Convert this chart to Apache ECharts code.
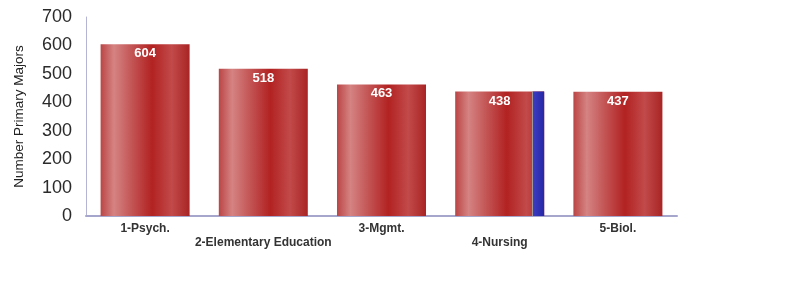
<!DOCTYPE html>
<html>
<head>
<meta charset="utf-8">
<script src="https://cdn.jsdelivr.net/npm/echarts@6/dist/echarts.min.js"></script>
<style>
  html, body { margin: 0; padding: 0; background: #fff; }
  #chart { width: 812px; height: 281px; }
</style>
</head>
<body>
<div id="chart"></div>
<script>
const majors = ["1-Psych.", "2-Elementary Education", "3-Mgmt.", "4-Nursing", "5-Biol."];
const counts = [604, 518, 463, 438, 437];
// narrow blue strip drawn at the right side of the Nursing bar
const blueStrip = [null, null, null, 438, null];
const yTicks = [0, 100, 200, 300, 400, 500, 600, 700];

const redFill = {
    type: "linear", x: 0, y: 0, x2: 1, y2: 0,
    colorStops: [
        { offset: 0, color: "#bb4545" },
        { offset: 0.15, color: "#d58383" },
        { offset: 0.35, color: "#c35555" },
        { offset: 0.58, color: "#b22222" },
        { offset: 0.8, color: "#c24a4a" },
        { offset: 1, color: "#a92424" }
    ]
};

const stripData = [];
blueStrip.forEach((v, i) => { if (v != null) stripData.push([i, v]); });

let chart = echarts.init(document.getElementById("chart"));
chart.setOption({
    animation: false,
    grid: { left: 86, right: 135, top: 17, bottom: 65 },
    xAxis: {
        type: "category",
        data: majors,
        axisLine: { lineStyle: { color: "#a6a6cc", width: 2 } },
        axisTick: { show: false },
        axisLabel: {
            interval: 0,
            margin: 6,
            color: "#333",
            fontFamily: "Liberation Sans, Arial, sans-serif",
            fontWeight: "bold",
            fontSize: 12,
            lineHeight: 14,
            formatter: (v, i) => (i % 2 === 1 ? "\n" + v : v)
        }
    },
    yAxis: {
        type: "value",
        min: yTicks[0],
        max: yTicks[yTicks.length - 1],
        interval: 100,
        name: "Number Primary Majors",
        nameLocation: "middle",
        nameGap: 60,
        nameTextStyle: { color: "#222", fontSize: 13.5, fontFamily: "Liberation Sans, Arial, sans-serif" },
        splitLine: { show: false },
        axisTick: { show: false },
        axisLine: { show: true, lineStyle: { color: "#b4b4d4", width: 1 } },
        axisLabel: {
            margin: 14,
            color: "#2a2a2a",
            fontSize: 18,
            fontFamily: "Liberation Sans, Arial, sans-serif"
        }
    },
    series: [
        {
            type: "bar",
            data: counts,
            barWidth: "75.3%",
            itemStyle: { color: redFill },
            label: {
                show: true,
                position: "insideTop",
                distance: 3,
                color: "#fff",
                fontWeight: "bold",
                fontSize: 13,
                fontFamily: "Liberation Sans, Arial, sans-serif"
            }
        },
        {
            type: "custom",
            z: 5,
            encode: { x: 0, y: 1 },
            data: stripData,
            renderItem: function (params, api) {
                const cat = api.value(0);
                const v = api.value(1);
                const top = api.coord([cat, v]);
                const base = api.coord([cat, 0]);
                const bw = api.size([1, 0])[0];
                const x0 = top[0] + bw * 0.274;
                const x1 = top[0] + bw * 0.282;
                const x2 = top[0] + bw * 0.376;
                return {
                    type: "group",
                    children: [
                        {
                            type: "rect",
                            shape: { x: x0, y: top[1], width: x1 - x0, height: base[1] - top[1] },
                            style: { fill: "#a0a0a0" }
                        },
                        {
                            type: "rect",
                            shape: { x: x1, y: top[1], width: x2 - x1, height: base[1] - top[1] },
                            style: {
                                fill: {
                                    type: "linear", x: 0, y: 0, x2: 1, y2: 0,
                                    colorStops: [
                                        { offset: 0, color: "#3c3cc0" },
                                        { offset: 1, color: "#2626a8" }
                                    ]
                                }
                            }
                        }
                    ]
                };
            }
        }
    ]
});
</script>
</body>
</html>
